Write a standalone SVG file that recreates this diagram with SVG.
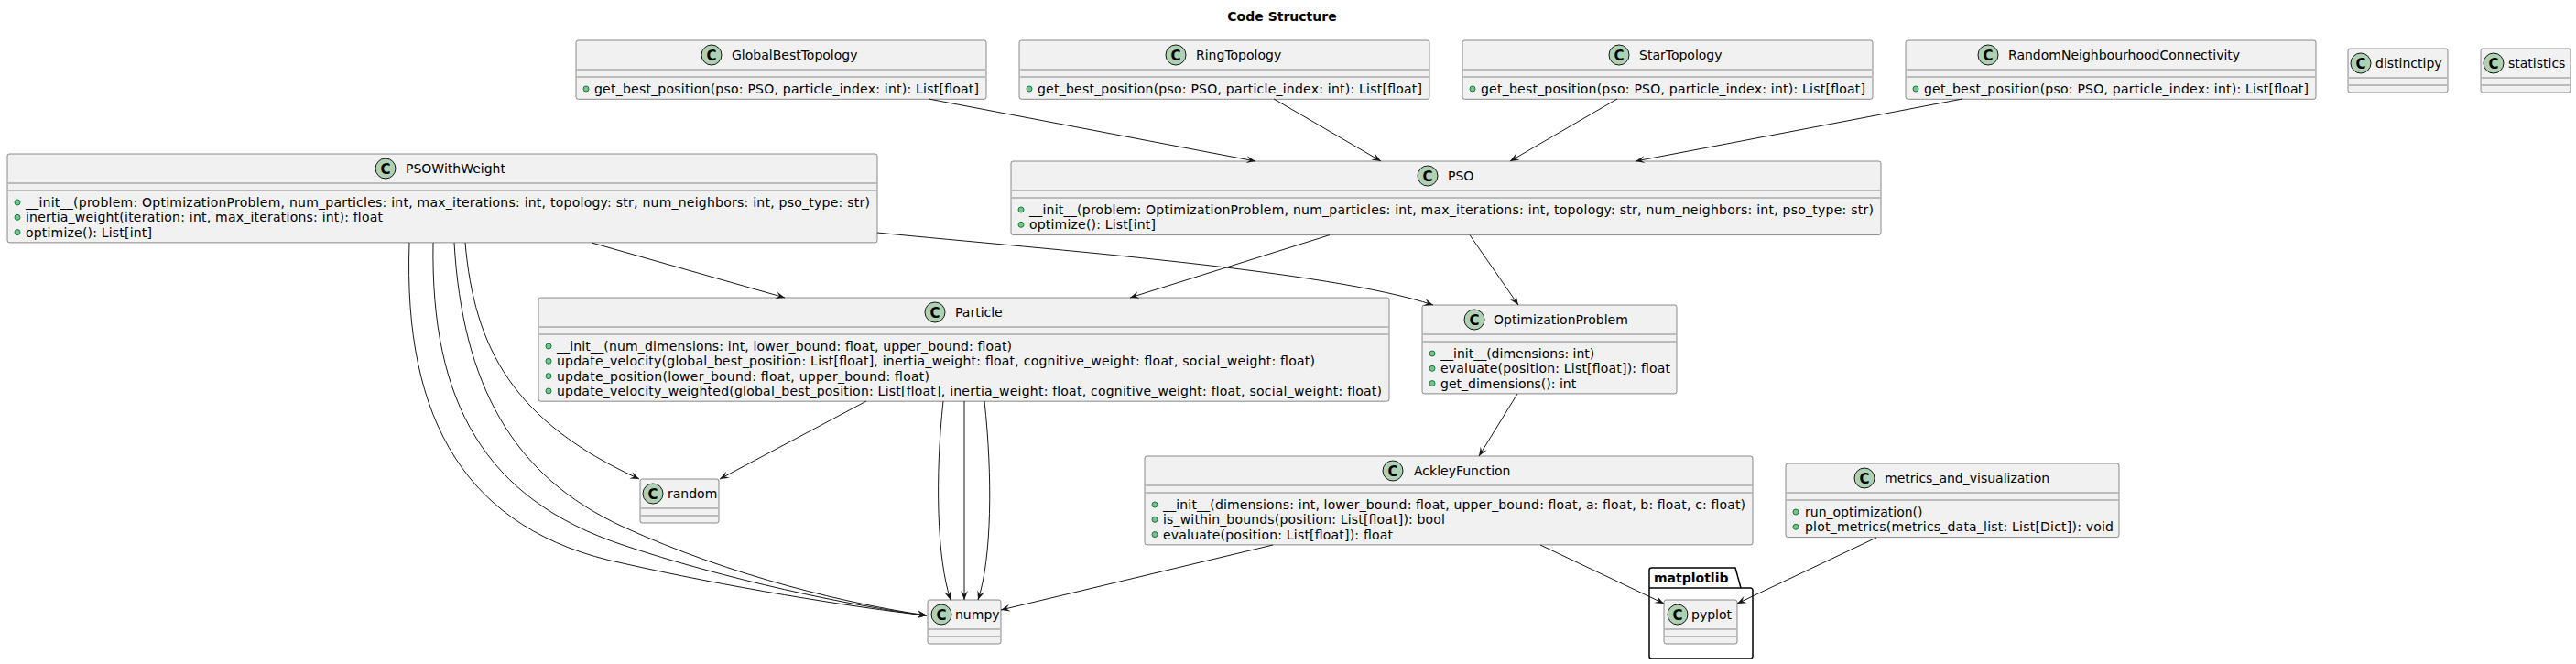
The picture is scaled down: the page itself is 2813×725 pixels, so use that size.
<svg xmlns="http://www.w3.org/2000/svg" width="2813" height="725" viewBox="0 0 2813 725">
<style>
text{font-family:"DejaVu Sans",Verdana,sans-serif;font-size:14px;fill:#000}
.box{fill:#F1F1F1;stroke:#181818;stroke-width:0.5}
.sep{stroke:#181818;stroke-width:0.5}
.spot{fill:#ADD1B2;stroke:#181818;stroke-width:1}
.sc{font-size:15px;font-weight:bold;text-anchor:middle}
.bul{fill:#84BE84;stroke:#038048;stroke-width:1}
.title{font-weight:bold;text-anchor:middle}
.pkgt{font-weight:bold}
.pkg{fill:none;stroke:#000;stroke-width:1.5}
#edges path{fill:none;stroke:#181818;stroke-width:1;marker-end:url(#ah)}
</style>
<defs>
<marker id="ah" markerUnits="userSpaceOnUse" viewBox="0 0 11 10" markerWidth="11" markerHeight="10" refX="10" refY="5" orient="auto">
<path d="M10,5 L0,1 L4,5 L0,9 Z" fill="#181818"/>
</marker>
</defs>
<rect width="2813" height="725" fill="#FFFFFF"/>
<text class="title" x="1400" y="23">Code Structure</text>

<g id="GlobalBestTopology">
<rect class="box" x="629" y="44" width="448" height="64.3" rx="2.5"/>
<circle class="spot" cx="777" cy="60" r="11"/><text class="sc" x="777" y="65.5">C</text>
<text x="799" y="64.85">GlobalBestTopology</text>
<line class="sep" x1="630" x2="1076" y1="76" y2="76"/><line class="sep" x1="630" x2="1076" y1="84" y2="84"/>
<circle class="bul" cx="640" cy="97" r="3"/>
<text x="649" y="102" textLength="420" lengthAdjust="spacing">get_best_position(pso: PSO, particle_index: int): List[float]</text>
</g>

<g id="RingTopology">
<rect class="box" x="1113" y="44" width="448" height="64.3" rx="2.5"/>
<circle class="spot" cx="1284" cy="60" r="11"/><text class="sc" x="1284" y="65.5">C</text>
<text x="1306" y="64.85">RingTopology</text>
<line class="sep" x1="1114" x2="1560" y1="76" y2="76"/><line class="sep" x1="1114" x2="1560" y1="84" y2="84"/>
<circle class="bul" cx="1124" cy="97" r="3"/>
<text x="1133" y="102" textLength="420" lengthAdjust="spacing">get_best_position(pso: PSO, particle_index: int): List[float]</text>
</g>

<g id="StarTopology">
<rect class="box" x="1597" y="44" width="448" height="64.3" rx="2.5"/>
<circle class="spot" cx="1768" cy="60" r="11"/><text class="sc" x="1768" y="65.5">C</text>
<text x="1790" y="64.85">StarTopology</text>
<line class="sep" x1="1598" x2="2044" y1="76" y2="76"/><line class="sep" x1="1598" x2="2044" y1="84" y2="84"/>
<circle class="bul" cx="1608" cy="97" r="3"/>
<text x="1617" y="102" textLength="420" lengthAdjust="spacing">get_best_position(pso: PSO, particle_index: int): List[float]</text>
</g>

<g id="RandomNeighbourhoodConnectivity">
<rect class="box" x="2081" y="44" width="448" height="64.3" rx="2.5"/>
<circle class="spot" cx="2171" cy="60" r="11"/><text class="sc" x="2171" y="65.5">C</text>
<text x="2193" y="64.85">RandomNeighbourhoodConnectivity</text>
<line class="sep" x1="2082" x2="2528" y1="76" y2="76"/><line class="sep" x1="2082" x2="2528" y1="84" y2="84"/>
<circle class="bul" cx="2092" cy="97" r="3"/>
<text x="2101" y="102" textLength="420" lengthAdjust="spacing">get_best_position(pso: PSO, particle_index: int): List[float]</text>
</g>

<g id="distinctipy">
<rect class="box" x="2564" y="53" width="109" height="48" rx="2.5"/>
<circle class="spot" cx="2578" cy="69" r="11"/><text class="sc" x="2578" y="74.5">C</text>
<text x="2594" y="73.85">distinctipy</text>
<line class="sep" x1="2565" x2="2672" y1="85" y2="85"/><line class="sep" x1="2565" x2="2672" y1="93" y2="93"/>
</g>

<g id="statistics">
<rect class="box" x="2709" y="53" width="98" height="48" rx="2.5"/>
<circle class="spot" cx="2723" cy="69" r="11"/><text class="sc" x="2723" y="74.5">C</text>
<text x="2739" y="73.85">statistics</text>
<line class="sep" x1="2710" x2="2806" y1="85" y2="85"/><line class="sep" x1="2710" x2="2806" y1="93" y2="93"/>
</g>

<g id="PSOWithWeight">
<rect class="box" x="8" y="168" width="950" height="96.9" rx="2.5"/>
<circle class="spot" cx="421" cy="184" r="11"/><text class="sc" x="421" y="189.5">C</text>
<text x="443" y="188.85">PSOWithWeight</text>
<line class="sep" x1="9" x2="957" y1="200" y2="200"/><line class="sep" x1="9" x2="957" y1="208" y2="208"/>
<circle class="bul" cx="19" cy="221" r="3"/>
<text x="28" y="226" textLength="922" lengthAdjust="spacing">__init__(problem: OptimizationProblem, num_particles: int, max_iterations: int, topology: str, num_neighbors: int, pso_type: str)</text>
<circle class="bul" cx="19" cy="237.3" r="3"/>
<text x="28" y="242.3" textLength="390" lengthAdjust="spacing">inertia_weight(iteration: int, max_iterations: int): float</text>
<circle class="bul" cx="19" cy="253.6" r="3"/>
<text x="28" y="258.6" textLength="138" lengthAdjust="spacing">optimize(): List[int]</text>
</g>

<g id="PSO">
<rect class="box" x="1104" y="176" width="950" height="80.6" rx="2.5"/>
<circle class="spot" cx="1559" cy="192" r="11"/><text class="sc" x="1559" y="197.5">C</text>
<text x="1581" y="196.85">PSO</text>
<line class="sep" x1="1105" x2="2053" y1="208" y2="208"/><line class="sep" x1="1105" x2="2053" y1="216" y2="216"/>
<circle class="bul" cx="1115" cy="229" r="3"/>
<text x="1124" y="234" textLength="922" lengthAdjust="spacing">__init__(problem: OptimizationProblem, num_particles: int, max_iterations: int, topology: str, num_neighbors: int, pso_type: str)</text>
<circle class="bul" cx="1115" cy="245.3" r="3"/>
<text x="1124" y="250.3" textLength="138" lengthAdjust="spacing">optimize(): List[int]</text>
</g>

<g id="Particle">
<rect class="box" x="588" y="325" width="929" height="113.2" rx="2.5"/>
<circle class="spot" cx="1021" cy="341" r="11"/><text class="sc" x="1021" y="346.5">C</text>
<text x="1043" y="345.85">Particle</text>
<line class="sep" x1="589" x2="1516" y1="357" y2="357"/><line class="sep" x1="589" x2="1516" y1="365" y2="365"/>
<circle class="bul" cx="599" cy="378" r="3"/>
<text x="608" y="383" textLength="497" lengthAdjust="spacing">__init__(num_dimensions: int, lower_bound: float, upper_bound: float)</text>
<circle class="bul" cx="599" cy="394.3" r="3"/>
<text x="608" y="399.3" textLength="828" lengthAdjust="spacing">update_velocity(global_best_position: List[float], inertia_weight: float, cognitive_weight: float, social_weight: float)</text>
<circle class="bul" cx="599" cy="410.6" r="3"/>
<text x="608" y="415.6" textLength="407" lengthAdjust="spacing">update_position(lower_bound: float, upper_bound: float)</text>
<circle class="bul" cx="599" cy="426.9" r="3"/>
<text x="608" y="431.9" textLength="901" lengthAdjust="spacing">update_velocity_weighted(global_best_position: List[float], inertia_weight: float, cognitive_weight: float, social_weight: float)</text>
</g>

<g id="OptimizationProblem">
<rect class="box" x="1553" y="333" width="278" height="96.9" rx="2.5"/>
<circle class="spot" cx="1610" cy="349" r="11"/><text class="sc" x="1610" y="354.5">C</text>
<text x="1631" y="353.85">OptimizationProblem</text>
<line class="sep" x1="1554" x2="1830" y1="365" y2="365"/><line class="sep" x1="1554" x2="1830" y1="373" y2="373"/>
<circle class="bul" cx="1564" cy="386" r="3"/>
<text x="1573" y="391">__init__(dimensions: int)</text>
<circle class="bul" cx="1564" cy="402.3" r="3"/>
<text x="1573" y="407.3" textLength="251" lengthAdjust="spacing">evaluate(position: List[float]): float</text>
<circle class="bul" cx="1564" cy="418.6" r="3"/>
<text x="1573" y="423.6">get_dimensions(): int</text>
</g>

<g id="AckleyFunction">
<rect class="box" x="1250" y="498" width="664" height="96.9" rx="2.5"/>
<circle class="spot" cx="1521" cy="514" r="11"/><text class="sc" x="1521" y="519.5">C</text>
<text x="1544" y="518.85">AckleyFunction</text>
<line class="sep" x1="1251" x2="1913" y1="530" y2="530"/><line class="sep" x1="1251" x2="1913" y1="538" y2="538"/>
<circle class="bul" cx="1261" cy="551" r="3"/>
<text x="1270" y="556" textLength="636" lengthAdjust="spacing">__init__(dimensions: int, lower_bound: float, upper_bound: float, a: float, b: float, c: float)</text>
<circle class="bul" cx="1261" cy="567.3" r="3"/>
<text x="1270" y="572.3" textLength="308" lengthAdjust="spacing">is_within_bounds(position: List[float]): bool</text>
<circle class="bul" cx="1261" cy="583.6" r="3"/>
<text x="1270" y="588.6" textLength="251" lengthAdjust="spacing">evaluate(position: List[float]): float</text>
</g>

<g id="metrics_and_visualization">
<rect class="box" x="1950" y="506" width="364" height="80.6" rx="2.5"/>
<circle class="spot" cx="2036" cy="522" r="11"/><text class="sc" x="2036" y="527.5">C</text>
<text x="2058" y="526.85">metrics_and_visualization</text>
<line class="sep" x1="1951" x2="2313" y1="538" y2="538"/><line class="sep" x1="1951" x2="2313" y1="546" y2="546"/>
<circle class="bul" cx="1961" cy="559" r="3"/>
<text x="1971" y="564">run_optimization()</text>
<circle class="bul" cx="1961" cy="575.3" r="3"/>
<text x="1971" y="580.3" textLength="337" lengthAdjust="spacing">plot_metrics(metrics_data_list: List[Dict]): void</text>
</g>

<g id="random">
<rect class="box" x="699" y="523" width="86" height="48" rx="2.5"/>
<circle class="spot" cx="713" cy="539" r="11"/><text class="sc" x="713" y="544.5">C</text>
<text x="729" y="543.85">random</text>
<line class="sep" x1="700" x2="784" y1="555" y2="555"/><line class="sep" x1="700" x2="784" y1="563" y2="563"/>
</g>

<g id="numpy">
<rect class="box" x="1013" y="655" width="80" height="48" rx="2.5"/>
<circle class="spot" cx="1028" cy="671" r="11"/><text class="sc" x="1028" y="676.5">C</text>
<text x="1043" y="675.85">numpy</text>
<line class="sep" x1="1014" x2="1092" y1="687" y2="687"/><line class="sep" x1="1014" x2="1092" y1="695" y2="695"/>
</g>

<g id="matplotlib">
<path class="pkg" d="M1803.5,620 L1895,620 L1901,642 L1911.5,642 A2.5,2.5 0 0 1 1914,644.5 L1914,716.5 A2.5,2.5 0 0 1 1911.5,719 L1803.5,719 A2.5,2.5 0 0 1 1801,716.5 L1801,622.5 A2.5,2.5 0 0 1 1803.5,620 Z"/>
<line class="pkg" x1="1801" x2="1901" y1="642" y2="642"/>
<text class="pkgt" x="1806" y="636">matplotlib</text>
<g id="pyplot">
<rect class="box" x="1817" y="655" width="80" height="48" rx="2.5"/>
<circle class="spot" cx="1832" cy="671" r="11"/><text class="sc" x="1832" y="676.5">C</text>
<text x="1847" y="675.85">pyplot</text>
<line class="sep" x1="1818" x2="1896" y1="687" y2="687"/><line class="sep" x1="1818" x2="1896" y1="695" y2="695"/>
</g>
</g>

<g id="edges">
<path d="M1014,108 L1371,176"/>
<path d="M1391,108 L1508,176"/>
<path d="M1766,108 L1649,176"/>
<path d="M2143,108 L1786,176"/>
<path d="M646,265 L857,325"/>
<path d="M958,254 C1150,273 1450,295 1565,333"/>
<path d="M1452,256.6 L1234,325"/>
<path d="M1605,256.6 L1658,333"/>
<path d="M508,265 C518,380 560,460 698,523"/>
<path d="M447,265 C440,460 510,580 680,615 C790,640 930,663 1012,672"/>
<path d="M473,265 C470,440 530,545 680,595 C790,632 930,662 1012,672"/>
<path d="M496,265 C505,420 560,520 680,575 C800,630 930,660 1012,672"/>
<path d="M946,438 L786,523"/>
<path d="M1030,438 C1021,520 1023,610 1038,655"/>
<path d="M1053,438 L1053,655"/>
<path d="M1075,438 C1084,520 1083,610 1068,655"/>
<path d="M1390,595 L1093,666"/>
<path d="M1657,430 L1615,498"/>
<path d="M1682,595 L1817,659"/>
<path d="M2049,587 L1897,659"/>
</g>
</svg>
